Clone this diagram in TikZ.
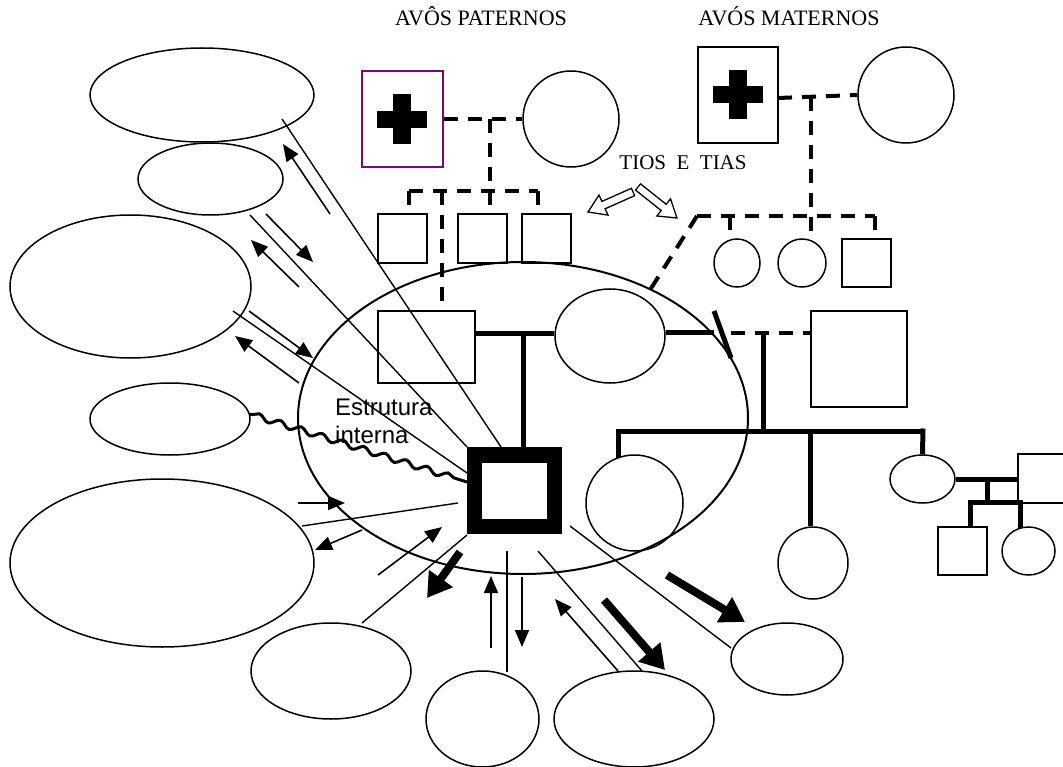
\documentclass[tikz,border=0pt]{standalone}
\usepackage{fontspec}
\setmainfont{Liberation Serif}
\newfontfamily\arialfont{Liberation Sans}
\usetikzlibrary{arrows.meta,shapes.geometric,decorations.pathmorphing}
\definecolor{purp}{RGB}{128,0,128}
\begin{document}
\begin{tikzpicture}[x=1pt,y=-1pt,
  ell/.style={draw, ellipse, line width=1.5pt, inner sep=0pt},
  box/.style={draw, rectangle, line width=1.5pt, inner sep=0pt},
  dashline/.style={line width=4pt, dash pattern=on 14pt off 10pt},
  thickline/.style={line width=5pt},
  thinline/.style={line width=1.4pt},
  arr/.style={line width=1.6pt, -{Triangle[length=17pt,width=14pt]}},
  bigarr/.style={line width=8pt, -{Triangle[length=24pt,width=28pt]}},
  hollow/.style={draw, line width=1.3pt, fill=white},
  title/.style={font=\fontsize{22}{26}\selectfont, anchor=base, inner sep=0pt},
  sans/.style={font=\arialfont\fontsize{24}{28}\selectfont, anchor=base west, inner sep=0pt}
]
\useasboundingbox (0,0) rectangle (1063,767);

% ---------- titles ----------
\node[title] (tp) at (481,26) {AVÔS PATERNOS};
\node[title] (tm) at (789,26) {AVÓS MATERNOS};
\node[title, font=\fontsize{21}{25}\selectfont] (tt) at (683,170) {TIOS\ \ E\ \ TIAS};
\node[sans] (s1) at (335,415) {Estrutura};
\node[sans] (s2) at (335,443) {interna};

% ---------- family ellipse ----------
\node[ell, line width=2pt, minimum width=450pt, minimum height=312pt] (fam) at (523,418) {};

% ---------- grandparents ----------
\node[box, draw=purp, minimum width=81pt, minimum height=96pt] (pgf) at (402.5,119) {};
\fill (377,111) rectangle (427,128);
\fill (393,94) rectangle (411,144);
\node[ell, minimum width=96pt, minimum height=96pt] (pgm) at (571,119) {};
\node[box, minimum width=80pt, minimum height=96pt] (mgf) at (738,95) {};
\fill (713,86) rectangle (763,103);
\fill (729,70) rectangle (747,119);
\node[ell, minimum width=96pt, minimum height=96pt] (mgm) at (906,95) {};

% ---------- uncles / aunts ----------
\node[box, minimum width=49pt, minimum height=49pt] (u1) at (402.5,238.5) {};
\node[box, minimum width=49pt, minimum height=49pt] (u2) at (482.5,238.5) {};
\node[box, minimum width=49pt, minimum height=49pt] (u3) at (546.5,238.5) {};
\node[ell, minimum width=46pt, minimum height=48pt] (a1) at (737,263) {};
\node[ell, minimum width=48pt, minimum height=48pt] (a2) at (802,263) {};
\node[box, minimum width=49pt, minimum height=48pt] (a3) at (866.5,263) {};

% ---------- parents, ego ----------
\node[box, minimum width=97pt, minimum height=72pt] (fa) at (426.5,347) {};
\node[ell, minimum width=110pt, minimum height=94pt] (mo) at (610,336) {};
\node[box, minimum width=96pt, minimum height=96pt] (sh) at (859,359) {};
\node[draw, rectangle, line width=15.5pt, minimum width=80pt, minimum height=71.5pt, inner sep=0pt, outer sep=0pt] (ego) at (514.5,490.75) {};

% ---------- half siblings ----------
\node[ell, minimum width=97pt, minimum height=96pt] (h1) at (634.5,503) {};
\node[ell, minimum width=70pt, minimum height=72pt] (h2) at (813,563) {};
\node[ell, minimum width=65pt, minimum height=48pt] (h3) at (922.5,479) {};
\node[box, minimum width=57pt, minimum height=49pt] (h3sp) at (1046.5,478.5) {};
\node[box, minimum width=49pt, minimum height=48pt] (k1) at (962.5,551) {};
\node[ell, minimum width=53pt, minimum height=48pt] (k2) at (1028.5,551) {};

% ---------- outer ellipses ----------
\node[ell, minimum width=224pt, minimum height=94pt] (e1) at (202,95) {};
\node[ell, minimum width=145pt, minimum height=72pt] (e2) at (210.5,179) {};
\node[ell, minimum width=241pt, minimum height=143pt] (e3) at (130.5,286.5) {};
\node[ell, minimum width=160pt, minimum height=72pt] (e4) at (170,419) {};
\node[ell, minimum width=304pt, minimum height=168pt] (e5) at (162,563) {};
\node[ell, minimum width=160pt, minimum height=96pt] (e6) at (331,671) {};
\node[ell, minimum width=113pt, minimum height=96pt] (e7) at (482.5,719) {};
\node[ell, minimum width=160pt, minimum height=96pt] (e8) at (634,719) {};
\node[ell, minimum width=112pt, minimum height=72pt] (e9) at (787,659) {};

% ---------- paternal genealogy (dashed) ----------
\draw[dashline] (pgf.east) -- (pgm.west);
\draw[dashline] (490,119) -- (490,207);
\draw[dashline] (409,191) -- (538,191);
\draw[dashline] (409,191) -- (409,207);
\draw[dashline] (538,191) -- (u3.north -| 538,0);
\draw[dashline] (442,191) -- (fa.north -| 442,0);

% ---------- maternal genealogy (dashed) ----------
\draw[dashline] (778,98) -- (mgm.west);
\draw[dashline] (811,97) -- (811,241);
\draw[dashline] (697,216) -- (875,216);
\draw[dashline] (730,216) -- (730,232);
\draw[dashline] (875,216) -- (a3.north -| 875,0);
\draw[dashline] (697,216) -- (650,290);

% ---------- nuclear family (thick) ----------
\draw[thickline] (fa.east |- 0,334) -- (mo.west |- 0,334);
\draw[thickline] (523,334) -- (ego.north -| 523,0);
\draw[thickline] (mo.east |- 0,333) -- (714,333);
\draw[thickline] (714,311) -- (731,358);
\draw[dashline] (731,333) -- (sh.west |- 0,333);
\draw[thickline] (763,333) -- (763,431);
\draw[thickline] (618,431) -- (923,431);
\draw[thickline] (618,428.5) -- (618,458);
\draw[thickline] (810,431) -- (h2.north -| 810,0);
\draw[thickline] (923,428.5) -- (h3.north);
\draw[thickline] (h3.east) -- (h3sp.west |- 0,479);
\draw[thickline] (987,479) -- (987,502);
\draw[thickline] (970,502) -- (1020,502);
\draw[thickline] (970,499.5) -- (k1.north -| 970,0);
\draw[thickline] (1020,499.5) -- (1020,528);

% ---------- hollow arrows (tios e tias) ----------
\draw[hollow] (634.6,195.7) -- (605.1,208.8) -- (608.0,215.1) -- (588,212) -- (599.0,195.0) -- (601.9,201.4) -- (631.4,188.3) -- cycle;
\draw[hollow] (635.5,190.1) -- (661.2,210.5) -- (656.9,216.0) -- (677,218) -- (670.5,198.8) -- (666.2,204.3) -- (640.5,183.9) -- cycle;

% ---------- relation lines ----------
\coordinate (lA1) at (282,119);  \coordinate (lA2) at (501,447);
\coordinate (lB1) at (250,215);  \coordinate (lB2) at (467,447);
\coordinate (lC1) at (233,311);  \coordinate (lC2) at (467,473);
\coordinate (lD1) at (302,526);  \coordinate (lD2) at (458,503);
\coordinate (lE1) at (362,623);  \coordinate (lE2) at (467,535);
\coordinate (lF1) at (507,551);  \coordinate (lF2) at (507,672);
\coordinate (lG1) at (538,551);  \coordinate (lG2) at (642,671);
\coordinate (lH1) at (570,526);  \coordinate (lH2) at (731,648);
\draw[thinline] (lA1) -- (lA2);
\draw[thinline] (lB1) -- (lB2);
\draw[thinline] (lC1) -- (lC2);
\draw[thinline] (lD1) -- (lD2);
\draw[thinline] (lE1) -- (lE2);
\draw[thinline] (lF1) -- (lF2);
\draw[thinline] (lG1) -- (lG2);
\draw[thinline] (lH1) -- (lH2);

% wavy (conflict) line
\coordinate (w1) at (250,414);
\coordinate (w2) at (467,482);
\draw[line width=3pt, decorate, decoration={snake, segment length=22pt, amplitude=3pt, pre length=2pt, post length=4pt}] (w1) -- (w2);

% ---------- arrows ----------
\coordinate (r1a) at (330,214); \coordinate (r1b) at (283,144);
\coordinate (r2a) at (266,214); \coordinate (r2b) at (313,262);
\coordinate (r3a) at (299,287); \coordinate (r3b) at (251,240);
\coordinate (r4a) at (249,311); \coordinate (r4b) at (313,358);
\coordinate (r5a) at (299,383); \coordinate (r5b) at (235,336);
\coordinate (r6a) at (298,503); \coordinate (r6b) at (345,503);
\coordinate (r7a) at (362,530); \coordinate (r7b) at (315,550);
\coordinate (r8a) at (378,575); \coordinate (r8b) at (442,527);
\coordinate (r10a) at (491,648); \coordinate (r10b) at (491,576);
\coordinate (r11a) at (522,577); \coordinate (r11b) at (522,647);
\coordinate (r12a) at (618,671); \coordinate (r12b) at (555,599);
\draw[arr] (r1a) -- (r1b);
\draw[arr] (r2a) -- (r2b);
\draw[arr] (r3a) -- (r3b);
\draw[arr] (r4a) -- (r4b);
\draw[arr] (r5a) -- (r5b);
\draw[arr] (r6a) -- (r6b);
\draw[arr] (r7a) -- (r7b);
\draw[arr] (r8a) -- (r8b);
\draw[arr] (r10a) -- (r10b);
\draw[arr] (r11a) -- (r11b);
\draw[arr] (r12a) -- (r12b);

\coordinate (b1a) at (460,552); \coordinate (b1b) at (427,598);
\coordinate (b2a) at (604,600); \coordinate (b2b) at (665,670);
\coordinate (b3a) at (667,575); \coordinate (b3b) at (745,622);
\draw[bigarr] (b1a) -- (b1b);
\draw[bigarr] (b2a) -- (b2b);
\draw[bigarr] (b3a) -- (b3b);
\end{tikzpicture}
\end{document}
